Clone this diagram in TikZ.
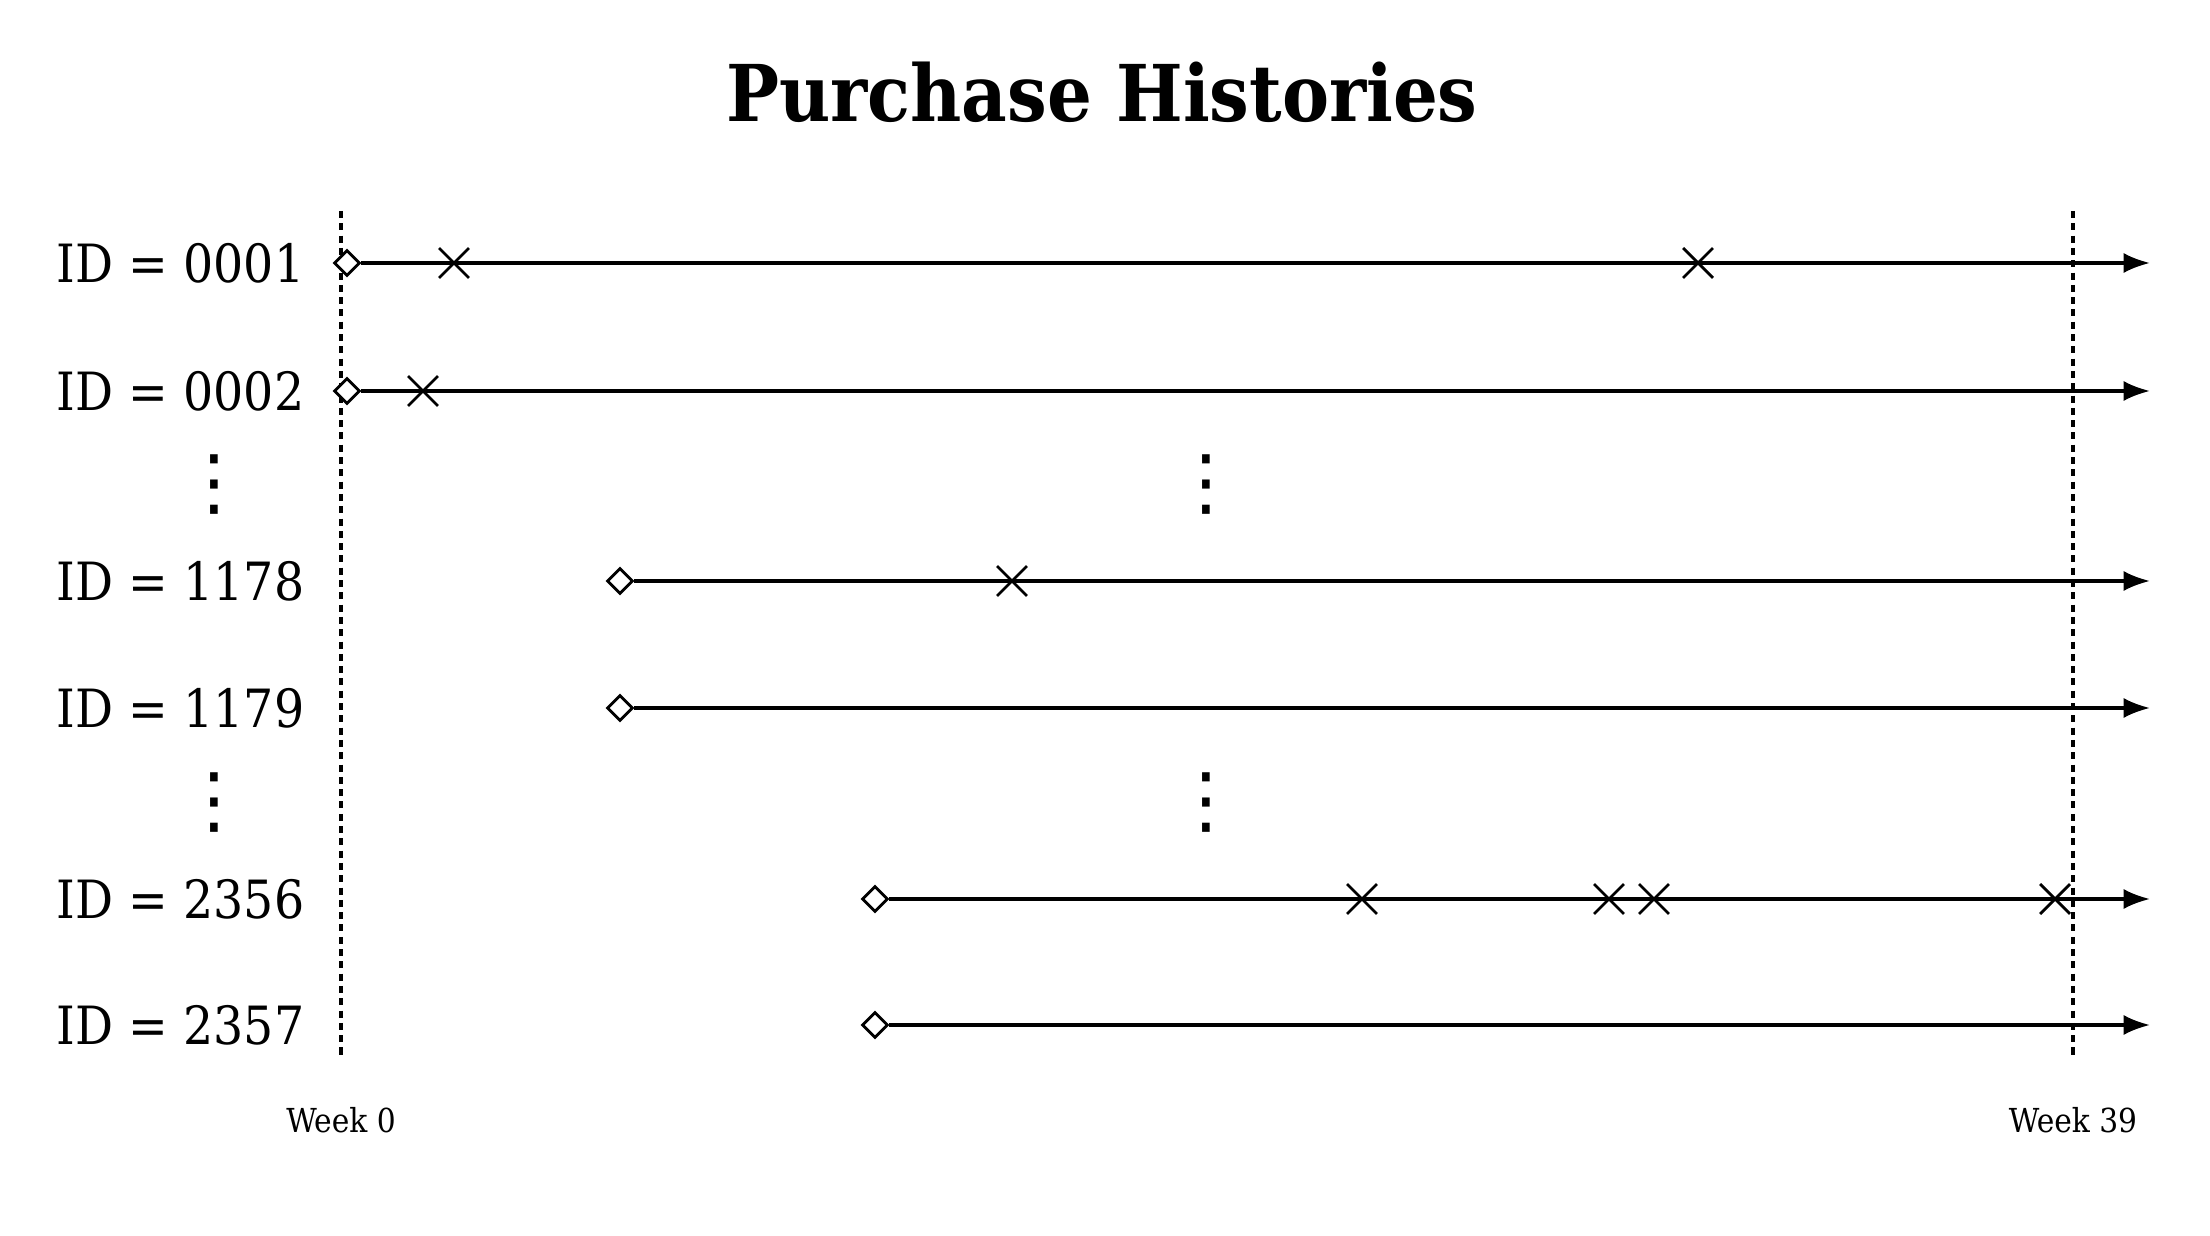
\documentclass[tikz,border=0pt]{standalone}
\usepackage{fontspec}
\setmainfont{DejaVu Serif Condensed}
\newfontfamily\dotsfont{DejaVu Sans}
\usetikzlibrary{arrows.meta, shapes.geometric, shapes.misc}

\begin{document}
\begin{tikzpicture}[
	history/.style={line width=0.9pt, -{Latex[length=7.5pt, width=5.7pt]}},
	start/.style={shape=diamond, draw, line width=0.8pt, fill=white, minimum size=0.26cm, inner sep=0pt},
	buy/.style={shape=cross out, draw, line width=0.8pt, minimum size=0.27cm, inner sep=0pt},
	limit/.style={line width=1pt, dash pattern={on 2pt off 1.5pt}},
	idlabel/.style={anchor=base east, inner sep=0pt, font=\fontsize{15}{17}\selectfont},
	weeklabel/.style={anchor=base, inner sep=0pt, font=\fontsize{9.4}{11}\selectfont},
	moredots/.style={inner sep=0pt, font=\dotsfont\fontsize{21}{24}\selectfont},
]
	\useasboundingbox (0, 0) rectangle (22.1, -12.36);
	% Title:
	\node[anchor=base, font=\bfseries\fontsize{22.3}{27}\selectfont] (title) at (11.02, -1.22) {Purchase Histories};
	% Week 0 and week 39 limits:
	\coordinate (w0top) at (3.41, -2.11);
	\coordinate (w0bot) at (3.41, -10.56);
	\coordinate (w39top) at (20.73, -2.11);
	\coordinate (w39bot) at (20.73, -10.56);
	\draw[limit] (w0top) -- (w0bot);
	\draw[limit] (w39top) -- (w39bot);
	\node[weeklabel] (week0) at (3.41, -11.33) {Week 0};
	\node[weeklabel] (week39) at (20.73, -11.33) {Week 39};
	% ID = 0001:
	\node[idlabel] (id1) at (3.05, -2.83) {ID = 0001};
	\node[start] (s1) at (3.47, -2.63) {};
	\coordinate (e1) at (21.5, -2.63);
	\draw[history] (s1) -- (e1);
	\node[buy] (b11) at (4.54, -2.63) {};
	\node[buy] (b12) at (16.98, -2.63) {};
	% ID = 0002:
	\node[idlabel] (id2) at (3.05, -4.11) {ID = 0002};
	\node[start] (s2) at (3.47, -3.91) {};
	\coordinate (e2) at (21.5, -3.91);
	\draw[history] (s2) -- (e2);
	\node[buy] (b21) at (4.23, -3.91) {};
	% dots:
	\node[moredots] (dots1) at (2.14, -4.85) {⋮};
	\node[moredots] (dots2) at (12.06, -4.85) {⋮};
	% ID = 1178:
	\node[idlabel] (id3) at (3.05, -6.01) {ID = 1178};
	\node[start] (s3) at (6.20, -5.81) {};
	\coordinate (e3) at (21.5, -5.81);
	\draw[history] (s3) -- (e3);
	\node[buy] (b31) at (10.12, -5.81) {};
	% ID = 1179:
	\node[idlabel] (id4) at (3.05, -7.28) {ID = 1179};
	\node[start] (s4) at (6.20, -7.08) {};
	\coordinate (e4) at (21.5, -7.08);
	\draw[history] (s4) -- (e4);
	% dots:
	\node[moredots] (dots3) at (2.14, -8.03) {⋮};
	\node[moredots] (dots4) at (12.06, -8.03) {⋮};
	% ID = 2356:
	\node[idlabel] (id5) at (3.05, -9.19) {ID = 2356};
	\node[start] (s5) at (8.75, -8.99) {};
	\coordinate (e5) at (21.5, -8.99);
	\draw[history] (s5) -- (e5);
	\node[buy] (b51) at (13.62, -8.99) {};
	\node[buy] (b52) at (16.09, -8.99) {};
	\node[buy] (b53) at (16.54, -8.99) {};
	\node[buy] (b54) at (20.55, -8.99) {};
	% ID = 2357:
	\node[idlabel] (id6) at (3.05, -10.45) {ID = 2357};
	\node[start] (s6) at (8.75, -10.25) {};
	\coordinate (e6) at (21.5, -10.25);
	\draw[history] (s6) -- (e6);
\end{tikzpicture}
\end{document}
